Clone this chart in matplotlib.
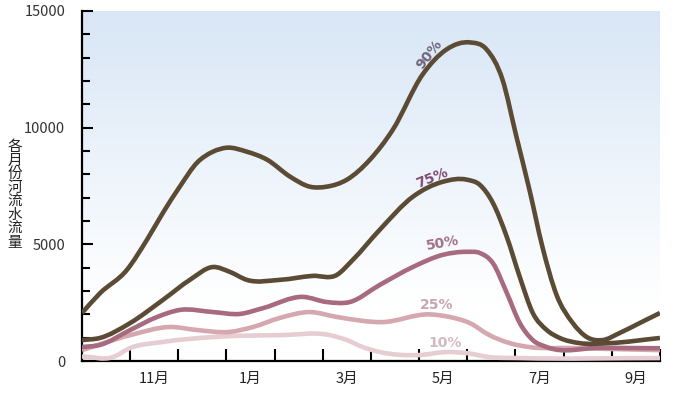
import numpy as np
import matplotlib
matplotlib.use("Agg")
import matplotlib.pyplot as plt
from matplotlib.path import Path
from matplotlib.patches import PathPatch

plt.rcParams['font.family'] = ['Noto Sans CJK SC', 'DejaVu Sans']

# 月份位置：0 = 10月初，12 = 9月末
month_labels = ['11月', '1月', '3月', '5月', '7月', '9月']
label_pos = [1.5, 3.5, 5.5, 7.5, 9.5, 11.5]

# 各百分位曲线（读图估计的数值）
x90 = [0, 0.37, 0.93, 1.35, 1.68, 2.03, 2.39, 2.72, 3.01, 3.42, 3.84, 4.32, 4.73, 5.08, 5.5,
       5.98, 6.45, 7.07, 7.57, 8.05, 8.4, 8.73, 9.02, 9.29, 9.56, 9.85, 10.19, 10.48,
       10.81, 11.16, 11.58, 12]
y90 = [2060, 2900, 3900, 5200, 6350, 7470, 8500, 8970, 9140, 8970, 8630, 7900, 7470, 7470, 7770,
       8630, 9900, 12270, 13350, 13650, 13350, 12060, 9610, 7340, 4890, 2850, 1630, 1030,
       900, 1200, 1630, 2060]

x75 = [0, 0.37, 1.0, 1.68, 2.24, 2.72, 3.07, 3.42, 4.11, 4.79, 5.29, 5.62, 6.18, 6.87, 7.49,
       7.99, 8.26, 8.53, 8.82, 9.09, 9.36, 9.65, 9.92, 10.33, 10.95, 12]
y75 = [900, 990, 1630, 2620, 3480, 4030, 3820, 3480, 3480, 3650, 3690, 4330, 5620, 7040, 7680,
       7770, 7550, 6780, 5320, 3600, 2060, 1330, 990, 770, 770, 990]

x50 = [0, 0.37, 1.0, 1.56, 2.03, 2.72, 3.28, 3.76, 4.59, 5.08, 5.56, 6.18, 6.87, 7.49,
       7.99, 8.26, 8.53, 8.82, 9.09, 9.36, 9.65, 10.75, 12]
y50 = [600, 690, 1330, 1890, 2190, 2100, 2020, 2270, 2750, 2530, 2530, 3260, 4030, 4550,
       4680, 4630, 4200, 2920, 1630, 900, 600, 570, 550]

x25 = [0, 1.0, 1.83, 2.39, 3.07, 3.55, 4.11, 4.73, 5.29, 6.24, 7.22, 7.63, 8.05, 8.46, 8.88,
       9.29, 10.12, 12]
y25 = [470, 1110, 1460, 1330, 1250, 1460, 1850, 2100, 1890, 1670, 2000, 1890, 1630, 1110, 770,
       600, 560, 470]

x10 = [0, 0.64, 1.0, 1.68, 2.72, 4.11, 5.15, 5.5, 5.83, 6.18, 7.01, 7.57, 7.99, 8.46, 9.09, 12]
y10 = [200, 170, 560, 820, 1030, 1110, 1110, 900, 600, 390, 260, 390, 340, 170, 130, 130]

series = [
    ('10%', x10, y10, '#e6cdd2', '#d2b9c4', 7.53, 770, 0),
    ('25%', x25, y25, '#d5a8af', '#c7a5b1', 7.36, 2400, 0),
    ('50%', x50, y50, '#a86a7e', '#a26f89', 7.49, 5060, 10),
    ('75%', x75, y75, '#5b4a34', '#7e4a78', 7.26, 7850, 22),
    ('90%', x90, y90, '#5b4a34', '#6e6579', 7.22, 13150, 52),
]


def smooth_path(xs, ys):
    # 三点差分切线 -> 贝塞尔曲线（平滑连接读取的点）
    xs = np.asarray(xs, float)
    ys = np.asarray(ys, float)
    h = np.diff(xs)
    d = np.diff(ys) / h
    n = len(xs)
    m = np.zeros(n)
    m[0], m[-1] = d[0], d[-1]
    for i in range(1, n - 1):
        m[i] = (d[i - 1] * h[i] + d[i] * h[i - 1]) / (h[i - 1] + h[i])
    verts = [(xs[0], ys[0])]
    codes = [Path.MOVETO]
    for i in range(n - 1):
        verts += [(xs[i] + h[i] / 3, ys[i] + m[i] * h[i] / 3),
                  (xs[i + 1] - h[i] / 3, ys[i + 1] - m[i + 1] * h[i] / 3),
                  (xs[i + 1], ys[i + 1])]
        codes += [Path.CURVE4] * 3
    return Path(verts, codes)


fig = plt.figure(figsize=(6.81, 4.03), dpi=100)
ax = fig.add_axes([0.1204, 0.104, 0.8487, 0.869])

# 背景渐变
grad = np.linspace(0, 1, 256).reshape(-1, 1)
top = np.array([216, 230, 246]) / 255
bot = np.array([255, 255, 255]) / 255
t = np.clip(grad * 1.2, 0, 1)
img = (top * (1 - t) + bot * t).reshape(256, 1, 3)
ax.imshow(img, extent=[0, 12, 0, 15000], aspect='auto', origin='upper', zorder=0)

for name, xs, ys, col, tcol, tx, ty, rot in series:
    ax.add_patch(PathPatch(smooth_path(xs, ys), fill=False, edgecolor=col, lw=3.3,
                           capstyle='butt', joinstyle='round', zorder=3))
    ax.text(tx, ty, name, color=tcol, fontsize=10, fontweight='bold', rotation=rot,
            ha='center', va='center', family='DejaVu Sans', zorder=4)

ax.set_xlim(0, 12)
ax.set_ylim(0, 15000)

for s in ['top', 'right']:
    ax.spines[s].set_visible(False)
for s in ['left', 'bottom']:
    ax.spines[s].set_linewidth(1.6)

ax.set_yticks([0, 5000, 10000, 15000])
ax.set_yticks(np.arange(0, 15001, 1000), minor=True)
ax.tick_params(axis='y', which='major', direction='in', length=8, width=1.5, pad=12,
               labelsize=10.5, labelcolor='#333333')
ax.tick_params(axis='y', which='minor', direction='in', length=5.5, width=1.5)

ax.set_xticks(np.arange(1, 13))
ax.set_xticklabels([])
ax.set_xticks(label_pos, minor=True)
ax.set_xticklabels(month_labels, minor=True, fontweight='medium')
ax.tick_params(axis='x', which='major', direction='in', length=9, width=1.5)
ax.tick_params(axis='x', which='minor', length=0, pad=8, labelsize=10.5, labelcolor='#222222')

ax.text(-0.116, 0.475, '\n'.join('各月份河流水流量'), transform=ax.transAxes, ha='center',
        va='center', fontsize=10.5, linespacing=0.97, color='#222222')

fig.savefig('out.png', dpi=100)
